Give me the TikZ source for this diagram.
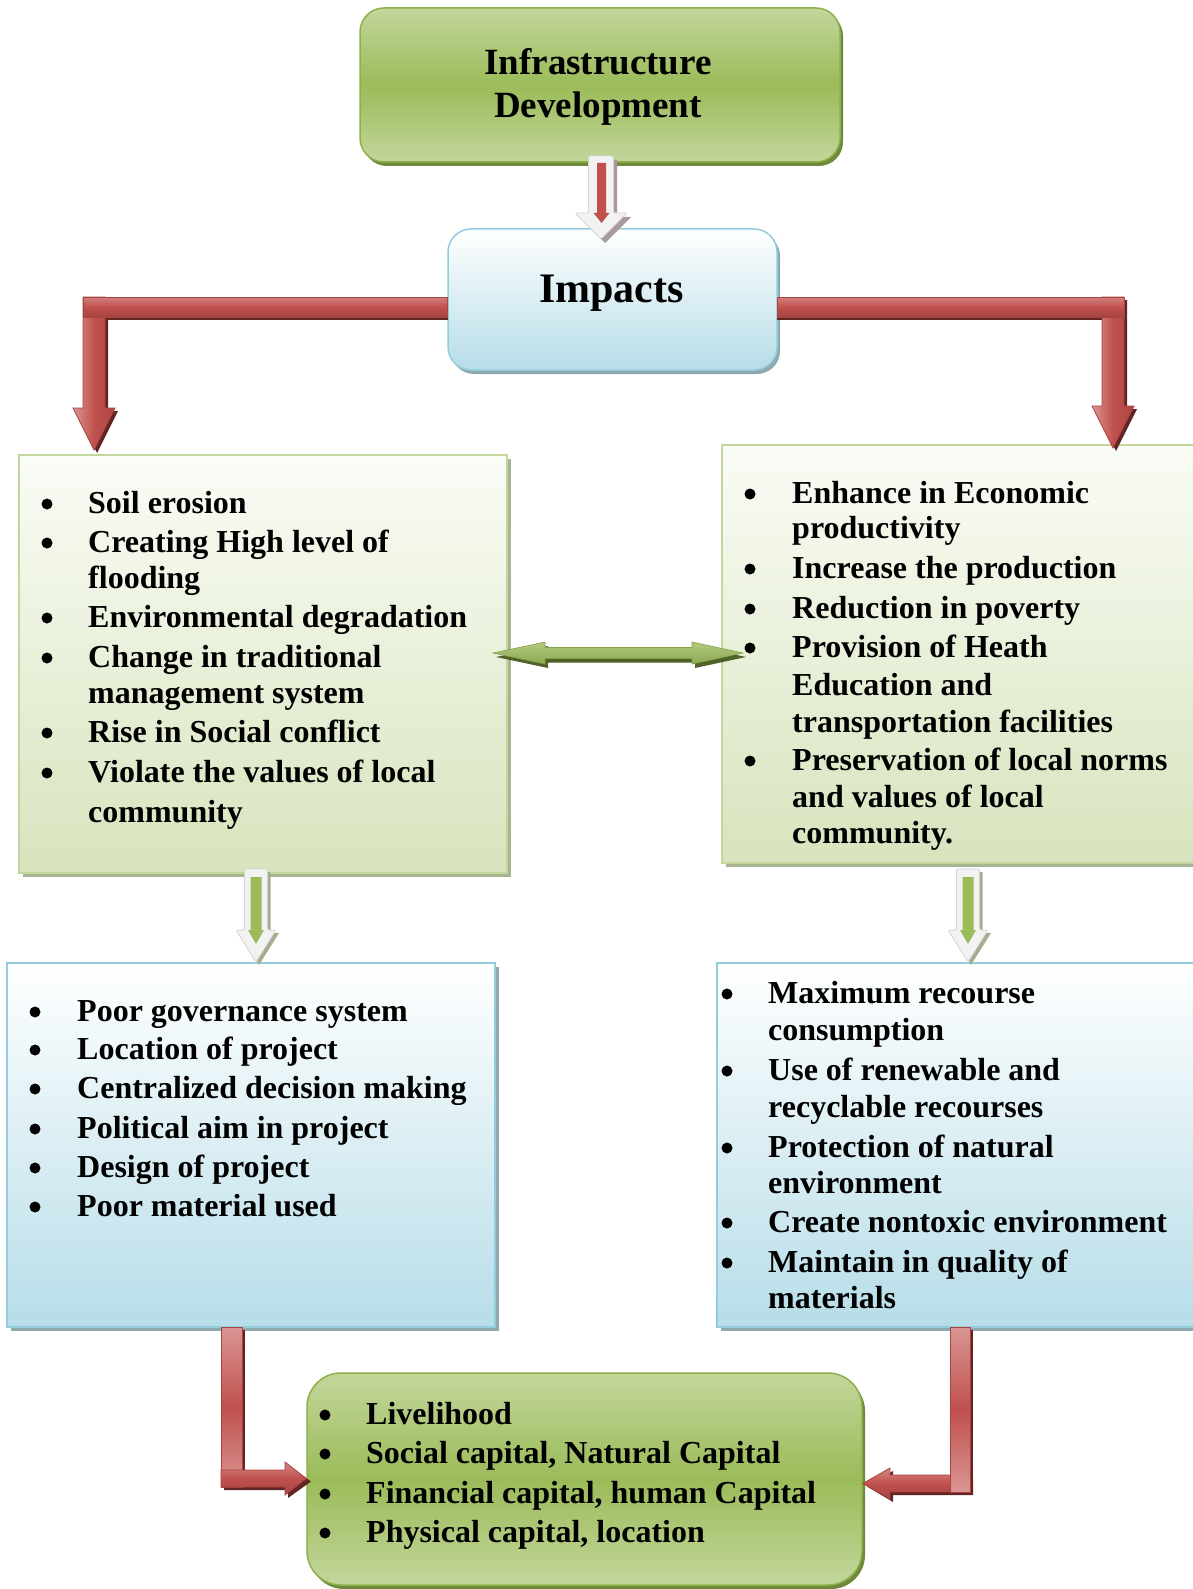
\documentclass[tikz,border=0pt]{standalone}
\usepackage{fontspec}
\setmainfont{Liberation Serif}
\usetikzlibrary{shadows}
\definecolor{gM}{HTML}{9BBB59}
\definecolor{gL}{HTML}{C3D69B}
\definecolor{gBd}{HTML}{8CB04C}
\definecolor{gD}{HTML}{6F8A3A}
\definecolor{gDD}{HTML}{4F6228}
\definecolor{lgT}{HTML}{FAFCF6}
\definecolor{lgB}{HTML}{D7E4BD}
\definecolor{lgS}{HTML}{A8B592}
\definecolor{bB}{HTML}{B7DDE8}
\definecolor{bBd}{HTML}{93CDDD}
\definecolor{bS}{HTML}{8EA9B0}
\definecolor{rM}{HTML}{C0504D}
\definecolor{rL}{HTML}{D99694}
\definecolor{rD}{HTML}{A94340}
\definecolor{rS}{HTML}{632523}
\definecolor{aO}{HTML}{F2F2F2}
\definecolor{aOd}{HTML}{D4D4D4}
\definecolor{aS}{HTML}{A89A9A}
\definecolor{aSg}{HTML}{A6AD8F}
\tikzset{
  txt/.style={anchor=base west, inner sep=0pt, font=\fontsize{32}{36}\selectfont\bfseries},
  roundg/.style={rectangle, draw=gBd, line width=1.5pt, top color=gL, bottom color=gL, middle color=gM,
    drop shadow={shadow xshift=3pt, shadow yshift=-4pt, opacity=1, fill=gD}},
  listg/.style={rectangle, draw=gL, line width=2pt, top color=lgT, bottom color=lgB, inner sep=0pt,
    drop shadow={shadow xshift=4pt, shadow yshift=-4pt, opacity=1, fill=lgS}},
  listb/.style={rectangle, draw=bBd, line width=2pt, top color=white, bottom color=bB, inner sep=0pt,
    drop shadow={shadow xshift=4pt, shadow yshift=-4pt, opacity=1, fill=bS}},
  redline/.style={draw=rD, line width=0.8pt},
}
\newcommand\lbul[2]{\fill (#1,#2-9) circle (5.5pt);}
\begin{document}
\begin{tikzpicture}[x=1pt,y=-1pt]
\clip (0,0) rectangle (1193,1589);
\fill[white] (0,0) rectangle (1193,1589);

% ---------- boxes ----------
\node[roundg, rounded corners=24pt, minimum width=480pt, minimum height=154pt] (top) at (600,85) {};
\node[rectangle, rounded corners=23pt, draw=bBd, line width=1.5pt, top color=white, bottom color=bB,
  drop shadow={shadow xshift=3pt, shadow yshift=-4pt, opacity=1, fill=bS},
  minimum width=329pt, minimum height=141pt] (imp) at (612.5,299.5) {};
\node[listg, minimum width=488pt, minimum height=418pt] (neg) at (263,664) {};
\node[listg, minimum width=482pt, minimum height=418pt] (pos) at (963,654) {};
\node[listb, minimum width=488pt, minimum height=364pt] (cause) at (251,1145) {};
\node[listb, minimum width=488pt, minimum height=364pt] (sust) at (961,1145) {};
\node[roundg, rounded corners=34pt, minimum width=555pt, minimum height=212pt] (live) at (584.5,1479) {};

% ---------- titles ----------
\node[anchor=base, inner sep=0pt, font=\fontsize{37}{43}\selectfont\bfseries] (t1) at (598,75) {Infrastructure};
\node[anchor=base, inner sep=0pt, font=\fontsize{37}{43}\selectfont\bfseries] (t2) at (598,118) {Development};
\node[anchor=base, inner sep=0pt, font=\fontsize{42}{48}\selectfont\bfseries] (it) at (611.5,302) {Impacts};

% ---------- left green list ----------
\lbul{47}{513}\node[txt] (n1) at (88,513) {Soil erosion};
\lbul{47}{552}\node[txt] (n2) at (88,552) {Creating High level of};
\node[txt] (n2b) at (88,588) {flooding};
\lbul{47}{627}\node[txt] (n3) at (88,627) {Environmental degradation};
\lbul{47}{667}\node[txt] (n4) at (88,667) {Change in traditional};
\node[txt] (n4b) at (88,703) {management system};
\lbul{47}{742}\node[txt] (n5) at (88,742) {Rise in Social conflict};
\lbul{47}{782}\node[txt] (n6) at (88,782) {Violate the values of local};
\node[txt] (n6b) at (88,822) {community};

% ---------- right green list ----------
\lbul{750}{503}\node[txt] (p1) at (792,503) {Enhance in Economic};
\node[txt] (p1b) at (792,538) {productivity};
\lbul{750}{578}\node[txt] (p2) at (792,578) {Increase the production};
\lbul{750}{618}\node[txt] (p3) at (792,618) {Reduction in poverty};
\lbul{750}{657}\node[txt] (p4) at (792,657) {Provision of Heath};
\node[txt] (p4b) at (792,695) {Education and};
\node[txt] (p4c) at (792,732) {transportation facilities};
\lbul{750}{770}\node[txt] (p5) at (792,770) {Preservation of local norms};
\node[txt] (p5b) at (792,807) {and values of local};
\node[txt] (p5c) at (792,843) {community.};

% ---------- left blue list ----------
\lbul{35}{1021}\node[txt] (c1) at (77,1021) {Poor governance system};
\lbul{35}{1059}\node[txt] (c2) at (77,1059) {Location of project};
\lbul{35}{1098}\node[txt] (c3) at (77,1098) {Centralized decision making};
\lbul{35}{1138}\node[txt] (c4) at (77,1138) {Political aim in project};
\lbul{35}{1177}\node[txt] (c5) at (77,1177) {Design of project};
\lbul{35}{1216}\node[txt] (c6) at (77,1216) {Poor material used};

% ---------- right blue list ----------
\lbul{727}{1003}\node[txt] (s1) at (768,1003) {Maximum recourse};
\node[txt] (s1b) at (768,1040) {consumption};
\lbul{727}{1080}\node[txt] (s2) at (768,1080) {Use of renewable and};
\node[txt] (s2b) at (768,1117) {recyclable recourses};
\lbul{727}{1157}\node[txt] (s3) at (768,1157) {Protection of natural};
\node[txt] (s3b) at (768,1193) {environment};
\lbul{727}{1232}\node[txt] (s4) at (768,1232) {Create nontoxic environment};
\lbul{727}{1272}\node[txt] (s5) at (768,1272) {Maintain in quality of};
\node[txt] (s5b) at (768,1308) {materials};

% ---------- bottom list ----------
\lbul{325}{1424}\node[txt] (l1) at (366,1424) {Livelihood};
\lbul{325}{1463}\node[txt] (l2) at (366,1463) {Social capital, Natural Capital};
\lbul{325}{1503}\node[txt] (l3) at (366,1503) {Financial capital, human Capital};
\lbul{325}{1542}\node[txt] (l4) at (366,1542) {Physical capital, location};

% ---------- small arrow top -> impacts ----------
\fill[aS] (592,160) -- (617,160) -- (617,217) -- (631,217) -- (605,243) -- (579,217) -- (592,217) -- cycle;
\filldraw[fill=aO, draw=aOd, line width=0.8pt, rounded corners=1.5pt]
  (588.5,156) -- (613.5,156) -- (613.5,213) -- (627,213) -- (601,239) -- (575,213) -- (588.5,213) -- cycle;
\fill[rM] (597,163) -- (606,163) -- (606,213) -- (609.5,213) -- (601.5,223) -- (593.5,213) -- (597,213) -- cycle;

% ---------- top-left bent red arrow ----------
\fill[rS] (86,300) -- (108,300) -- (108,411) -- (118,411) -- (97,453) -- (76,411) -- (86,411) -- cycle;
\fill[rS] (86,300) rectangle (448,320);
\shade[left color=rL, right color=rM!90!black, middle color=rM, redline]
  (83,297) -- (105,297) -- (105,408) -- (115,408) -- (94,450) -- (73,408) -- (83,408) -- cycle;
\shade[top color=rL!70!rM, bottom color=rM!85!black, middle color=rM, redline]
  (83,297) rectangle (imp.west |- 0,317);

% ---------- top-right bent red arrow ----------
\fill[rS] (1105,300) -- (1127,300) -- (1127,409) -- (1137,409) -- (1116,451) -- (1095,409) -- (1105,409) -- cycle;
\fill[rS] (777,300) rectangle (1127,320);
\shade[left color=rL, right color=rM!90!black, middle color=rM, redline]
  (1102,297) -- (1124,297) -- (1124,406) -- (1134,406) -- (1113,448) -- (1092,406) -- (1102,406) -- cycle;
\shade[top color=rL!70!rM, bottom color=rM!85!black, middle color=rM, redline]
  (imp.east |- 0,297) rectangle (1124,317);

% ---------- double green arrow ----------
\fill[gDD] (496,657) -- (548,646) -- (548,651.5) -- (695,651.5) -- (695,646) -- (746,657) -- (695,668) -- (695,662.5) -- (548,662.5) -- (548,668) -- cycle;
\shade[top color=gL!60!gM, bottom color=gM!90!black, draw=gM!85!black, line width=0.6pt]
  (493,653) -- (545,642) -- (545,647.5) -- (692,647.5) -- (692,642) -- (743,653) -- (692,664) -- (692,658.5) -- (545,658.5) -- (545,664) -- cycle;

% ---------- small green arrows ----------
\fill[aSg] (247.5,872) -- (270.5,872) -- (270.5,933) -- (279,933) -- (259,965) -- (239,933) -- (247.5,933) -- cycle;
\filldraw[fill=aO, draw=aOd, line width=0.8pt, rounded corners=1.5pt]
  (244.5,869) -- (267.5,869) -- (267.5,930) -- (276,930) -- (256,962) -- (236,930) -- (244.5,930) -- cycle;
\fill[gM] (250.5,877) -- (261.5,877) -- (261.5,930) -- (264,930) -- (256,944) -- (248,930) -- (250.5,930) -- cycle;

\fill[aSg] (959.5,872) -- (982.5,872) -- (982.5,933) -- (991,933) -- (971,965) -- (951,933) -- (959.5,933) -- cycle;
\filldraw[fill=aO, draw=aOd, line width=0.8pt, rounded corners=1.5pt]
  (956.5,869) -- (979.5,869) -- (979.5,930) -- (988,930) -- (968,962) -- (948,930) -- (956.5,930) -- cycle;
\fill[gM] (962.5,877) -- (973.5,877) -- (973.5,930) -- (976,930) -- (968,944) -- (960,930) -- (962.5,930) -- cycle;

% ---------- bottom-left L red arrow ----------
\fill[rS] (224,1330) rectangle (245,1490);
\fill[rS] (224,1473) -- (288,1473) -- (288,1465) -- (311,1481.5) -- (288,1498) -- (288,1490) -- (224,1490) -- cycle;
\shade[top color=rL, bottom color=rL, middle color=rM, redline] (221,1327) rectangle (242,1487);
\shade[top color=rL!80!rM, bottom color=rM!85!black, middle color=rM, redline]
  (221,1470) -- (285,1470) -- (285,1462) -- (live.west |- 0,1478.5) -- (285,1495) -- (285,1487) -- (221,1487) -- cycle;

% ---------- bottom-right L red arrow ----------
\fill[rS] (953,1330) rectangle (973,1495);
\fill[rS] (973,1478) -- (893,1478) -- (893,1471) -- (867,1486.5) -- (893,1502) -- (893,1495) -- (973,1495) -- cycle;
\shade[top color=rL!80!rM, bottom color=rM!85!black, middle color=rM, redline]
  (970,1475) -- (890,1475) -- (890,1468) -- (live.east |- 0,1483.5) -- (890,1499) -- (890,1492) -- (970,1492) -- cycle;
\shade[top color=rL, bottom color=rL, middle color=rM, redline] (950,1327) rectangle (970,1492);
\end{tikzpicture}
\end{document}
